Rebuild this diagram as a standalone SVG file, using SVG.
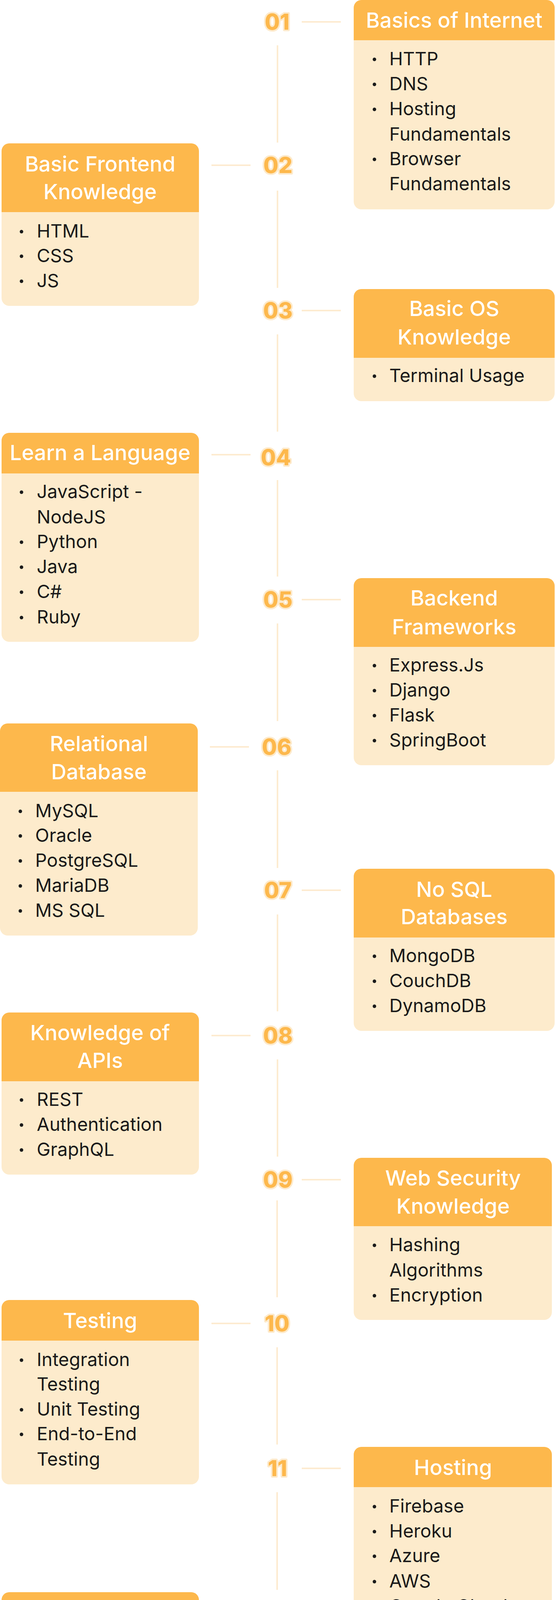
<svg xmlns="http://www.w3.org/2000/svg" width="1420" height="5136" viewBox="0 0 1420 5136">
<style>
.body{fill:#FDEBCC}
.head{fill:#FDB84C}
.title{font-family:Inter,"Liberation Sans",sans-serif;font-size:54px;font-weight:500;fill:#FFFFFF;text-anchor:middle}
.item{font-family:Inter,"Liberation Sans",sans-serif;font-size:47px;font-weight:400;fill:#1A1A1A}
.num{font-family:Inter,"Liberation Sans",sans-serif;font-size:56px;font-weight:800;fill:#FDB84C;stroke:#FDEACB;stroke-width:8;paint-order:stroke;stroke-linejoin:round;text-anchor:middle}
.foot{font-family:Inter,"Liberation Sans",sans-serif;font-size:48px;fill:#6B6B6B;text-anchor:middle}
.dot{fill:#1A1A1A}
.ln{stroke:#FDEBD0;stroke-width:4;fill:none}
</style>
<g id="connectors">
<path class="ln" d="M710 116V365M710 488V737M710 856V1105M710 1229V1476M710 1596V1846M710 1972V2222M710 2341V2589M710 2712V2961M709 3073V3321M709 3449V3698M709 3820V4070M709 4185V4433"/>
<path class="ln" d="M772 56H872M541 423H641M772 795H872M541 1164H641M772 1535H872M537 1912H637M772 2279H872M541 2651H641M772 3020H872M541 3388H641M772 3759H872M541 4124H641M772 4488H872"/>
</g>
<g id="numbers">
<text class="num" x="709" y="76">01</text>
<text class="num" x="711" y="443">02</text>
<text class="num" x="711" y="815">03</text>
<text class="num" x="706" y="1191">04</text>
<text class="num" x="711" y="1555">05</text>
<text class="num" x="708" y="1932">06</text>
<text class="num" x="711" y="2299">07</text>
<text class="num" x="711" y="2671">08</text>
<text class="num" x="711" y="3040">09</text>
<text class="num" x="709" y="3408">10</text>
<text class="num" x="710" y="3779">11</text>
<text class="num" x="709" y="4144">12</text>
<text class="num" x="709" y="4508">13</text>
</g>
<g id="node01">
<rect class="body" x="905" y="0" width="514" height="536" rx="20"/>
<path class="head" d="M905 20a20 20 0 0 1 20-20h474a20 20 0 0 1 20 20v83h-514z"/>
<text class="title" x="1162" y="71">Basics of Internet</text>
<circle class="dot" cx="958" cy="152" r="4.5"/><text class="item" x="996" y="167">HTTP</text>
<circle class="dot" cx="958" cy="216" r="4.5"/><text class="item" x="996" y="231">DNS</text>
<circle class="dot" cx="958" cy="280" r="4.5"/><text class="item" x="996" y="295">Hosting</text>
<text class="item" x="996" y="360">Fundamentals</text>
<circle class="dot" cx="958" cy="408" r="4.5"/><text class="item" x="996" y="423">Browser</text>
<text class="item" x="996" y="487">Fundamentals</text>
</g>
<g id="node02">
<rect class="body" x="4" y="367" width="505" height="416" rx="20"/>
<path class="head" d="M4 387a20 20 0 0 1 20-20h465a20 20 0 0 1 20 20v156h-505z"/>
<text class="title" x="256" y="439">Basic Frontend</text>
<text class="title" x="256" y="510">Knowledge</text>
<circle class="dot" cx="55" cy="593" r="4.5"/><text class="item" x="94" y="608">HTML</text>
<circle class="dot" cx="55" cy="656" r="4.5"/><text class="item" x="94" y="671">CSS</text>
<circle class="dot" cx="55" cy="720" r="4.5"/><text class="item" x="94" y="735">JS</text>
</g>
<g id="node03">
<rect class="body" x="905" y="740" width="514" height="287" rx="20"/>
<path class="head" d="M905 760a20 20 0 0 1 20-20h474a20 20 0 0 1 20 20v156h-514z"/>
<text class="title" x="1162" y="809">Basic OS</text>
<text class="title" x="1162" y="882">Knowledge</text>
<circle class="dot" cx="958" cy="963" r="4.5"/><text class="item" x="996" y="978">Terminal Usage</text>
</g>
<g id="node04">
<rect class="body" x="4" y="1108" width="505" height="535" rx="20"/>
<path class="head" d="M4 1128a20 20 0 0 1 20-20h465a20 20 0 0 1 20 20v84h-505z"/>
<text class="title" x="256" y="1178">Learn a Language</text>
<circle class="dot" cx="55" cy="1260" r="4.5"/><text class="item" x="94" y="1275">JavaScript -</text>
<text class="item" x="94" y="1340">NodeJS</text>
<circle class="dot" cx="55" cy="1388" r="4.5"/><text class="item" x="94" y="1403">Python</text>
<circle class="dot" cx="55" cy="1452" r="4.5"/><text class="item" x="94" y="1467">Java</text>
<circle class="dot" cx="55" cy="1516" r="4.5"/><text class="item" x="94" y="1531">C#</text>
<circle class="dot" cx="55" cy="1581" r="4.5"/><text class="item" x="94" y="1596">Ruby</text>
</g>
<g id="node05">
<rect class="body" x="905" y="1480" width="514" height="479" rx="20"/>
<path class="head" d="M905 1500a20 20 0 0 1 20-20h474a20 20 0 0 1 20 20v156h-514z"/>
<text class="title" x="1162" y="1550">Backend</text>
<text class="title" x="1162" y="1624">Frameworks</text>
<circle class="dot" cx="958" cy="1704" r="4.5"/><text class="item" x="996" y="1719">Express.Js</text>
<circle class="dot" cx="958" cy="1768" r="4.5"/><text class="item" x="996" y="1783">Django</text>
<circle class="dot" cx="958" cy="1832" r="4.5"/><text class="item" x="996" y="1847">Flask</text>
<circle class="dot" cx="958" cy="1896" r="4.5"/><text class="item" x="996" y="1911">SpringBoot</text>
</g>
<g id="node06">
<rect class="body" x="0" y="1852" width="506" height="543" rx="20"/>
<path class="head" d="M0 1872a20 20 0 0 1 20-20h466a20 20 0 0 1 20 20v155h-506z"/>
<text class="title" x="253" y="1923">Relational</text>
<text class="title" x="253" y="1995">Database</text>
<circle class="dot" cx="52" cy="2077" r="4.5"/><text class="item" x="90" y="2092">MySQL</text>
<circle class="dot" cx="52" cy="2140" r="4.5"/><text class="item" x="90" y="2155">Oracle</text>
<circle class="dot" cx="52" cy="2204" r="4.5"/><text class="item" x="90" y="2219">PostgreSQL</text>
<circle class="dot" cx="52" cy="2268" r="4.5"/><text class="item" x="90" y="2283">MariaDB</text>
<circle class="dot" cx="52" cy="2332" r="4.5"/><text class="item" x="90" y="2347">MS SQL</text>
</g>
<g id="node07">
<rect class="body" x="905" y="2224" width="514" height="415" rx="20"/>
<path class="head" d="M905 2244a20 20 0 0 1 20-20h474a20 20 0 0 1 20 20v156h-514z"/>
<text class="title" x="1162" y="2296">No SQL</text>
<text class="title" x="1162" y="2366">Databases</text>
<circle class="dot" cx="958" cy="2448" r="4.5"/><text class="item" x="996" y="2463">MongoDB</text>
<circle class="dot" cx="958" cy="2512" r="4.5"/><text class="item" x="996" y="2527">CouchDB</text>
<circle class="dot" cx="958" cy="2576" r="4.5"/><text class="item" x="996" y="2591">DynamoDB</text>
</g>
<g id="node08">
<rect class="body" x="4" y="2592" width="505" height="415" rx="20"/>
<path class="head" d="M4 2612a20 20 0 0 1 20-20h465a20 20 0 0 1 20 20v156h-505z"/>
<text class="title" x="256" y="2663">Knowledge of</text>
<text class="title" x="256" y="2734">APIs</text>
<circle class="dot" cx="55" cy="2816" r="4.5"/><text class="item" x="94" y="2831">REST</text>
<circle class="dot" cx="55" cy="2880" r="4.5"/><text class="item" x="94" y="2895">Authentication</text>
<circle class="dot" cx="55" cy="2944" r="4.5"/><text class="item" x="94" y="2959">GraphQL</text>
</g>
<g id="node09">
<rect class="body" x="905" y="2964" width="507" height="415" rx="20"/>
<path class="head" d="M905 2984a20 20 0 0 1 20-20h467a20 20 0 0 1 20 20v155h-507z"/>
<text class="title" x="1159" y="3035">Web Security</text>
<text class="title" x="1159" y="3107">Knowledge</text>
<circle class="dot" cx="958" cy="3188" r="4.5"/><text class="item" x="996" y="3203">Hashing</text>
<text class="item" x="996" y="3268">Algorithms</text>
<circle class="dot" cx="958" cy="3317" r="4.5"/><text class="item" x="996" y="3332">Encryption</text>
</g>
<g id="node10">
<rect class="body" x="4" y="3328" width="505" height="472" rx="20"/>
<path class="head" d="M4 3348a20 20 0 0 1 20-20h465a20 20 0 0 1 20 20v84h-505z"/>
<text class="title" x="256" y="3400">Testing</text>
<circle class="dot" cx="55" cy="3482" r="4.5"/><text class="item" x="94" y="3497">Integration</text>
<text class="item" x="94" y="3560">Testing</text>
<circle class="dot" cx="55" cy="3609" r="4.5"/><text class="item" x="94" y="3624">Unit Testing</text>
<circle class="dot" cx="55" cy="3672" r="4.5"/><text class="item" x="94" y="3687">End-to-End</text>
<text class="item" x="94" y="3752">Testing</text>
</g>
<g id="node11">
<rect class="body" x="905" y="3704" width="507" height="472" rx="20"/>
<path class="head" d="M905 3724a20 20 0 0 1 20-20h467a20 20 0 0 1 20 20v83h-507z"/>
<text class="title" x="1159" y="3776">Hosting</text>
<circle class="dot" cx="958" cy="3857" r="4.5"/><text class="item" x="996" y="3872">Firebase</text>
<circle class="dot" cx="958" cy="3921" r="4.5"/><text class="item" x="996" y="3936">Heroku</text>
<circle class="dot" cx="958" cy="3984" r="4.5"/><text class="item" x="996" y="3999">Azure</text>
<circle class="dot" cx="958" cy="4049" r="4.5"/><text class="item" x="996" y="4064">AWS</text>
<circle class="dot" cx="958" cy="4113" r="4.5"/><text class="item" x="996" y="4128">Google Cloud</text>
</g>
<g id="node12">
<rect class="body" x="4" y="4076" width="505" height="280" rx="20"/>
<path class="head" d="M4 4096a20 20 0 0 1 20-20h465a20 20 0 0 1 20 20v84h-505z"/>
<text class="title" x="256" y="4147">CI/CD</text>
<circle class="dot" cx="55" cy="4230" r="4.5"/><text class="item" x="94" y="4245">Github Actions</text>
<circle class="dot" cx="55" cy="4292" r="4.5"/><text class="item" x="94" y="4307">Azure DevOps</text>
</g>
<g id="node13">
<rect class="body" x="905" y="4440" width="507" height="415" rx="20"/>
<path class="head" d="M905 4460a20 20 0 0 1 20-20h467a20 20 0 0 1 20 20v155h-507z"/>
<text class="title" x="1159" y="4512">Architectural</text>
<text class="title" x="1159" y="4584">Pattern</text>
<circle class="dot" cx="958" cy="4664" r="4.5"/><text class="item" x="996" y="4679">Monolithic Apps</text>
<circle class="dot" cx="958" cy="4728" r="4.5"/><text class="item" x="996" y="4743">Microservices</text>
<circle class="dot" cx="958" cy="4791" r="4.5"/><text class="item" x="996" y="4806">Serverless</text>
</g>
<g id="footer">
<rect class="body" x="4" y="4996" width="1415" height="140" rx="20"/>
<text class="foot" x="708" y="5084">Thats all! Now practise more to get better at it!</text>
</g>
</svg>
